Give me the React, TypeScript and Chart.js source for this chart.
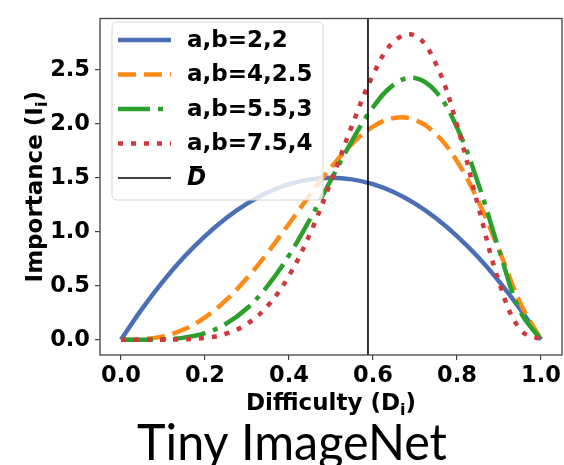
import React, { useEffect, useRef } from 'react';
import { Chart, registerables } from 'chart.js';

Chart.register(...registerables);

// ---- data ----
const xValues = [0, 0.05, 0.1, 0.15, 0.2, 0.25, 0.3, 0.35, 0.4, 0.45, 0.5, 0.55, 0.6, 0.65, 0.7, 0.75, 0.8, 0.85, 0.9, 0.95, 1.0];
const seriesLabels = ['a,b=2,2', 'a,b=4,2.5', 'a,b=5.5,3', 'a,b=7.5,4'];
const importanceAB22 = [0, 0.285, 0.54, 0.765, 0.96, 1.125, 1.26, 1.365, 1.44, 1.485, 1.5, 1.485, 1.44, 1.365, 1.26, 1.125, 0.96, 0.765, 0.54, 0.285, 0];
const importanceAB4_25 = [0, 0.004, 0.031, 0.096, 0.207, 0.366, 0.571, 0.811, 1.074, 1.342, 1.595, 1.813, 1.973, 2.053, 2.035, 1.904, 1.653, 1.288, 0.832, 0.346, 0];
const importanceAB55_3 = [0, 0.0002, 0.003, 0.019, 0.061, 0.147, 0.291, 0.503, 0.781, 1.116, 1.481, 1.842, 2.153, 2.364, 2.424, 2.296, 1.965, 1.452, 0.834, 0.266, 0];
const importanceAB75_4 = [0, 0, 0.0002, 0.003, 0.016, 0.055, 0.145, 0.317, 0.593, 0.982, 1.464, 1.983, 2.451, 2.763, 2.817, 2.553, 1.988, 1.244, 0.534, 0.095, 0];
const dBar = 0.588;
const dBarLabel = 'D';
const xTicks = [0, 0.2, 0.4, 0.6, 0.8, 1.0];
const yTicks = [0, 0.5, 1.0, 1.5, 2.0, 2.5];
const xRange = [-0.05, 1.05];
const yRange = [-0.142, 2.975];
const xTitle = ['Difficulty (D', 'i', ')'];
const yTitle = ['Importance (I', 'i', ')'];
const caption = 'Tiny ImageNet';

// ---- styles ----
const colors = ['#4a6fb5', '#ff8a17', '#2ca02c', '#d0383c'];
const dashes = [[], [18, 8], [32, 8, 5, 8], [5, 8]];
const LW = 4.5;
const FONT = '"DejaVu Sans", sans-serif';

function drawSubText(ctx: CanvasRenderingContext2D, parts: string[], x: number, y: number, size: number) {
  const main = `bold ${size}px ${FONT}`;
  const sub = `bold ${Math.round(size * 0.7)}px ${FONT}`;
  ctx.font = main;
  const w0 = ctx.measureText(parts[0]).width;
  const w2 = ctx.measureText(parts[2]).width;
  ctx.font = sub;
  const w1 = ctx.measureText(parts[1]).width;
  const total = w0 + w1 + w2;
  let cx = x - total / 2;
  ctx.textAlign = 'left';
  ctx.textBaseline = 'alphabetic';
  ctx.fillStyle = '#000';
  ctx.font = main;
  ctx.fillText(parts[0], cx, y);
  cx += w0;
  ctx.font = sub;
  ctx.fillText(parts[1], cx, y + size * 0.22);
  cx += w1;
  ctx.font = main;
  ctx.fillText(parts[2], cx, y);
}

const decorPlugin = {
  id: 'decor',
  afterDatasetsDraw(chart: any) {
    const ctx: CanvasRenderingContext2D = chart.ctx;
    const a = chart.chartArea;
    ctx.save();
    // legend box
    const bx = 112, by = 22, bw = 211, bh = 178, r = 5;
    ctx.beginPath();
    ctx.moveTo(bx + r, by);
    ctx.lineTo(bx + bw - r, by);
    ctx.quadraticCurveTo(bx + bw, by, bx + bw, by + r);
    ctx.lineTo(bx + bw, by + bh - r);
    ctx.quadraticCurveTo(bx + bw, by + bh, bx + bw - r, by + bh);
    ctx.lineTo(bx + r, by + bh);
    ctx.quadraticCurveTo(bx, by + bh, bx, by + bh - r);
    ctx.lineTo(bx, by + r);
    ctx.quadraticCurveTo(bx, by, bx + r, by);
    ctx.closePath();
    ctx.fillStyle = 'rgba(255,255,255,0.8)';
    ctx.fill();
    ctx.strokeStyle = '#d6d6d6';
    ctx.lineWidth = 1;
    ctx.stroke();
    const rows = [40, 74.5, 109, 143.5, 178];
    const ds = chart.data.datasets;
    for (let i = 0; i < ds.length; i++) {
      const d = ds[i];
      const y = rows[i];
      ctx.beginPath();
      ctx.setLineDash(d.borderDash || []);
      ctx.lineCap = 'butt';
      ctx.strokeStyle = d.borderColor;
      ctx.lineWidth = d.borderWidth;
      ctx.moveTo(118, y);
      ctx.lineTo(171, y);
      ctx.stroke();
      ctx.setLineDash([]);
      ctx.fillStyle = '#000';
      ctx.textBaseline = 'middle';
      ctx.textAlign = 'left';
      if (i < 4) {
        ctx.font = `bold 23px ${FONT}`;
        ctx.fillText(d.label, 187, y + 1);
      } else {
        ctx.font = `italic bold 23px ${FONT}`;
        ctx.fillText(d.label, 187, y + 1);
        ctx.beginPath();
        ctx.strokeStyle = '#000';
        ctx.lineWidth = 2;
        ctx.moveTo(190, y - 11);
        ctx.lineTo(202, y - 11);
        ctx.stroke();
      }
    }
    // frame
    ctx.strokeStyle = '#444';
    ctx.lineWidth = 1.3;
    ctx.strokeRect(a.left, a.top, a.right - a.left, a.bottom - a.top);
    // axis titles
    drawSubText(ctx, xTitle, (a.left + a.right) / 2, 410, 23);
    ctx.save();
    ctx.translate(42, (a.top + a.bottom) / 2);
    ctx.rotate(-Math.PI / 2);
    drawSubText(ctx, yTitle, 0, 0, 23);
    ctx.restore();
    // caption
    ctx.font = '50px Lato, sans-serif';
    ctx.fillStyle = '#000';
    ctx.textAlign = 'center';
    ctx.textBaseline = 'alphabetic';
    const mw = ctx.measureText(caption).width;
    const sx = 310 / mw;
    ctx.save();
    ctx.translate(292, 460);
    ctx.scale(sx, 1);
    ctx.fillText(caption, 0, 0);
    ctx.restore();
    ctx.restore();
  },
};

export default function App() {
  const ref = useRef<HTMLCanvasElement>(null);
  useEffect(() => {
    if (!ref.current) return;
    const series = [importanceAB22, importanceAB4_25, importanceAB55_3, importanceAB75_4];
    const datasets: any[] = series.map((s, i) => ({
      label: seriesLabels[i],
      data: xValues.map((x, j) => ({ x, y: s[j] })),
      borderColor: colors[i],
      borderWidth: LW,
      borderDash: dashes[i],
      borderCapStyle: 'butt',
      pointRadius: 0,
      tension: 0.4,
      fill: false,
      order: 5 - i,
    }));
    datasets.push({
      label: dBarLabel,
      data: [{ x: dBar, y: yRange[0] }, { x: dBar, y: yRange[1] }],
      borderColor: '#000',
      borderWidth: 1.6,
      borderDash: [],
      pointRadius: 0,
      fill: false,
      order: 0,
    });
    const tickFont = { family: 'DejaVu Sans', weight: 'bold', size: 22.5 };
    const chart = new Chart(ref.current, {
      type: 'line',
      data: { datasets },
      options: {
        animation: false,
        responsive: false,
        devicePixelRatio: 1,
        layout: { padding: { top: 9, left: 0, right: 1, bottom: 0 } },
        plugins: { legend: { display: false }, tooltip: { enabled: false } },
        scales: {
          x: {
            type: 'linear',
            min: xRange[0],
            max: xRange[1],
            afterBuildTicks: (s: any) => { s.ticks = xTicks.map((v) => ({ value: v })); },
            afterFit: (s: any) => { s.height = 110; },
            border: { display: false },
            grid: { drawOnChartArea: false, drawTicks: true, tickLength: 5, color: '#444', lineWidth: 1.2 },
            ticks: {
              autoSkip: false,
              maxRotation: 0,
              padding: 3,
              color: '#000',
              font: tickFont,
              callback: (v: any) => Number(v).toFixed(1),
            },
          },
          y: {
            type: 'linear',
            min: yRange[0],
            max: yRange[1],
            afterBuildTicks: (s: any) => { s.ticks = yTicks.map((v) => ({ value: v })); },
            afterFit: (s: any) => { s.width = 100; },
            border: { display: false },
            grid: { drawOnChartArea: false, drawTicks: true, tickLength: 5, color: '#444', lineWidth: 1.2 },
            ticks: {
              padding: 5,
              color: '#000',
              font: tickFont,
              callback: (v: any) => Number(v).toFixed(1),
            },
          },
        },
      },
      plugins: [decorPlugin],
    } as any);
    return () => chart.destroy();
  }, []);
  return (
    <div style={{ position: 'absolute', left: 0, top: 0, width: 564, height: 465, background: '#fff', overflow: 'hidden' }}>
      <canvas ref={ref} width={564} height={465} style={{ display: 'block' }} />
    </div>
  );
}
